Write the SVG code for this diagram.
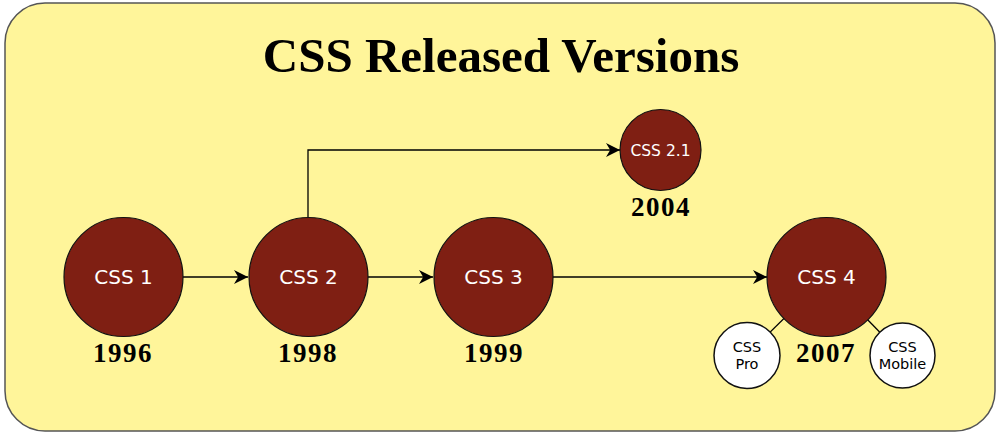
<svg xmlns="http://www.w3.org/2000/svg" width="1000" height="434" viewBox="0 0 1000 434">
<defs>
<marker id="arr" viewBox="0 0 10 10" refX="10" refY="5" markerWidth="14" markerHeight="14" markerUnits="userSpaceOnUse" orient="auto">
<path d="M0,0 L10,5 L0,10 L3,5 Z" fill="#000"/>
</marker>
<style>
.bg{fill:#FFF59A;stroke:#555;stroke-width:1.5}
.title{font-family:"Liberation Serif",serif;font-weight:bold;font-size:49px;fill:#000;text-anchor:middle}
.big{fill:#7F1F13;stroke:#111;stroke-width:1.2}
.small{fill:#fff;stroke:#111;stroke-width:1.5}
.lbl{font-family:"DejaVu Sans",sans-serif;font-size:20px;fill:#fff;text-anchor:middle}
.lbl21{font-family:"DejaVu Sans",sans-serif;font-size:15.5px;fill:#fff;text-anchor:middle}
.slbl{font-family:"DejaVu Sans",sans-serif;font-size:14.5px;fill:#000;text-anchor:middle}
.year{font-family:"Liberation Serif",serif;font-weight:bold;font-size:27px;letter-spacing:1.5px;fill:#000;text-anchor:middle}
.conn{fill:none;stroke:#000;stroke-width:1.3}
</style>
</defs>
<rect class="bg" x="5" y="3" width="990" height="428" rx="40" ry="40"/>
<text class="title" x="501" y="72">CSS Released Versions</text>
<g id="connectors">
<line class="conn" x1="183" y1="277" x2="248" y2="277" marker-end="url(#arr)"/>
<line class="conn" x1="368" y1="277" x2="433" y2="277" marker-end="url(#arr)"/>
<line class="conn" x1="553" y1="277" x2="767" y2="277" marker-end="url(#arr)"/>
<polyline class="conn" points="308,217 308,150 620,150" marker-end="url(#arr)"/>
<line class="conn" x1="826" y1="277" x2="747" y2="355"/>
<line class="conn" x1="826" y1="277" x2="902" y2="355"/>
</g>
<g id="css1">
<circle class="big" cx="123.5" cy="277" r="59.5"/>
<text class="lbl" x="123.5" y="284">CSS 1</text>
<text class="year" x="123" y="362">1996</text>
</g>
<g id="css2">
<circle class="big" cx="308.5" cy="277" r="59.5"/>
<text class="lbl" x="308.5" y="284">CSS 2</text>
<text class="year" x="308" y="362">1998</text>
</g>
<g id="css3">
<circle class="big" cx="493.5" cy="277" r="59.5"/>
<text class="lbl" x="493.5" y="284">CSS 3</text>
<text class="year" x="494" y="362">1999</text>
</g>
<g id="css21">
<circle class="big" cx="660.5" cy="150" r="40.5"/>
<text class="lbl21" x="660.5" y="156">CSS 2.1</text>
<text class="year" x="661" y="216">2004</text>
</g>
<g id="css4">
<circle class="big" cx="826.5" cy="277" r="59.5"/>
<text class="lbl" x="826.5" y="284">CSS 4</text>
<text class="year" x="826" y="362">2007</text>
</g>
<g id="csspro">
<circle class="small" cx="747" cy="355.5" r="33"/>
<text class="slbl" x="747" y="352">CSS</text>
<text class="slbl" x="747" y="369">Pro</text>
</g>
<g id="cssmobile">
<circle class="small" cx="902.5" cy="355.5" r="32.5"/>
<text class="slbl" x="902.5" y="352">CSS</text>
<text class="slbl" x="902.5" y="369">Mobile</text>
</g>
</svg>
